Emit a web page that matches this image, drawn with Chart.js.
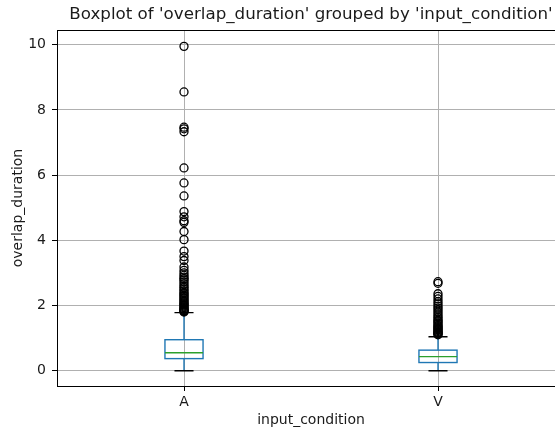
<!DOCTYPE html>
<html><head><meta charset="utf-8">
<script src="https://cdn.jsdelivr.net/npm/chart.js@4/dist/chart.umd.min.js"></script>
<style>
html,body{margin:0;padding:0;overflow:hidden;background:#fff;width:555px;height:432px}
#wrap{width:575px;height:432px}
canvas{display:block}
</style></head>
<body><div id="wrap"><canvas id="c" width="575" height="432" style="width:575px;height:432px"></canvas></div>
<script>
const categories = ['A', 'V'];
const q1 = [0.37, 0.25];
const medians = [0.55, 0.43];
const q3 = [0.95, 0.63];
const whiskerLow = [0, 0];
const whiskerHigh = [1.78, 1.04];
const outliersA = [9.95, 8.55, 7.47, 7.42, 7.33, 6.22, 5.76, 5.36, 4.88, 4.72, 4.6, 4.55, 4.27, 4.02, 3.67, 3.5, 3.38, 3.18, 3.08, 3.0, 2.93, 2.87, 2.82, 2.78, 2.72, 2.66, 2.6, 2.55, 2.5, 2.45, 2.4, 2.36, 2.32, 2.28, 2.24, 2.2, 2.16, 2.12, 2.08, 2.05, 2.02, 1.99, 1.96, 1.93, 1.9, 1.88, 1.86, 1.84, 1.82, 1.8];
const outliersV = [2.73, 2.68, 2.36, 2.28, 2.2, 2.12, 2.05, 1.98, 1.92, 1.86, 1.8, 1.74, 1.68, 1.63, 1.58, 1.54, 1.5, 1.46, 1.42, 1.38, 1.35, 1.32, 1.29, 1.26, 1.23, 1.2, 1.18, 1.16, 1.14, 1.12, 1.1];
const yTicks = [0, 2, 4, 6, 8, 10];
const titleText = "Boxplot of 'overlap_duration' grouped by 'input_condition'";
const xTitle = 'input_condition';
const yTitle = 'overlap_duration';

const BOX_W = 0.15, CAP_W = 0.075;
const font = {family: 'DejaVu Sans', size: 14};
const textColor = '#1a1a1a';

const boxPlugin = {
  id: 'boxes',
  beforeDatasetsDraw(chart) {
    const {ctx, scales: {x, y}, chartArea} = chart;
    ctx.save();
    ctx.lineWidth = 1;
    ctx.strokeStyle = '#000';
    ctx.beginPath();
    ctx.moveTo(chartArea.left, Math.round(chartArea.top) + 0.5);
    ctx.lineTo(chartArea.right, Math.round(chartArea.top) + 0.5);
    ctx.stroke();
    ctx.lineWidth = 1.4;
    categories.forEach((c, i) => {
      const pos = i + 1;
      const xc = x.getPixelForValue(pos);
      const bl = x.getPixelForValue(pos - BOX_W / 2), br = x.getPixelForValue(pos + BOX_W / 2);
      const cl = x.getPixelForValue(pos - CAP_W / 2), cr = x.getPixelForValue(pos + CAP_W / 2);
      const yq1 = y.getPixelForValue(q1[i]), yq3 = y.getPixelForValue(q3[i]);
      const ym = y.getPixelForValue(medians[i]);
      const ywl = y.getPixelForValue(whiskerLow[i]), ywh = y.getPixelForValue(whiskerHigh[i]);
      ctx.strokeStyle = '#1f77b4';
      ctx.beginPath();
      ctx.moveTo(xc, yq1); ctx.lineTo(xc, ywl);
      ctx.moveTo(xc, yq3); ctx.lineTo(xc, ywh);
      ctx.stroke();
      ctx.strokeStyle = '#000';
      ctx.beginPath();
      ctx.moveTo(cl, ywl); ctx.lineTo(cr, ywl);
      ctx.moveTo(cl, ywh); ctx.lineTo(cr, ywh);
      ctx.stroke();
      ctx.strokeStyle = '#1f77b4';
      ctx.strokeRect(bl, yq3, br - bl, yq1 - yq3);
      ctx.strokeStyle = '#2ca02c';
      ctx.beginPath();
      ctx.moveTo(bl, ym); ctx.lineTo(br, ym);
      ctx.stroke();
    });
    ctx.restore();
  }
};

new Chart(document.getElementById('c').getContext('2d'), {
  type: 'scatter',
  data: {
    datasets: [outliersA, outliersV].map((arr, i) => ({
      data: arr.map(v => ({x: i + 1, y: v})),
      pointStyle: 'circle',
      pointRadius: 4,
      pointBorderWidth: 1.3,
      pointBorderColor: '#000',
      pointBackgroundColor: 'rgba(0,0,0,0)',
      showLine: false
    }))
  },
  options: {
    responsive: false,
    animation: false,
    devicePixelRatio: 1,
    layout: {padding: {left: 0, right: 10, top: 0, bottom: 0}},
    plugins: {
      legend: {display: false},
      tooltip: {enabled: false},
      title: {
        display: true, text: titleText, fullSize: false, color: textColor,
        font: {family: 'DejaVu Sans', size: 16.7, weight: 'normal'},
        padding: {top: 5, bottom: 5}
      }
    },
    scales: {
      x: {
        type: 'linear', min: 0.5, max: 2.5,
        afterBuildTicks: s => { s.ticks = categories.map((c, i) => ({value: i + 1})); },
        afterFit: s => { s.height = 46; },
        ticks: {callback: v => categories[Math.round(v) - 1], font, color: textColor, padding: 3, maxRotation: 0, autoSkip: false},
        grid: {color: '#b0b0b0', lineWidth: 1, tickColor: '#000', tickLength: 5},
        border: {color: '#000', width: 1},
        title: {display: true, text: xTitle, font, color: textColor, padding: {top: 0, bottom: 3}}
      },
      y: {
        type: 'linear', min: -0.47, max: 10.45,
        afterBuildTicks: s => { s.ticks = yTicks.map(v => ({value: v})); },
        afterFit: s => { s.width = 57; },
        ticks: {font, color: textColor, padding: 6},
        grid: {color: '#b0b0b0', lineWidth: 1, tickColor: '#000', tickLength: 5},
        border: {color: '#000', width: 1},
        title: {display: true, text: yTitle, font, color: textColor, padding: {top: 10, bottom: 0}}
      }
    }
  },
  plugins: [boxPlugin]
});
</script>
</body></html>
